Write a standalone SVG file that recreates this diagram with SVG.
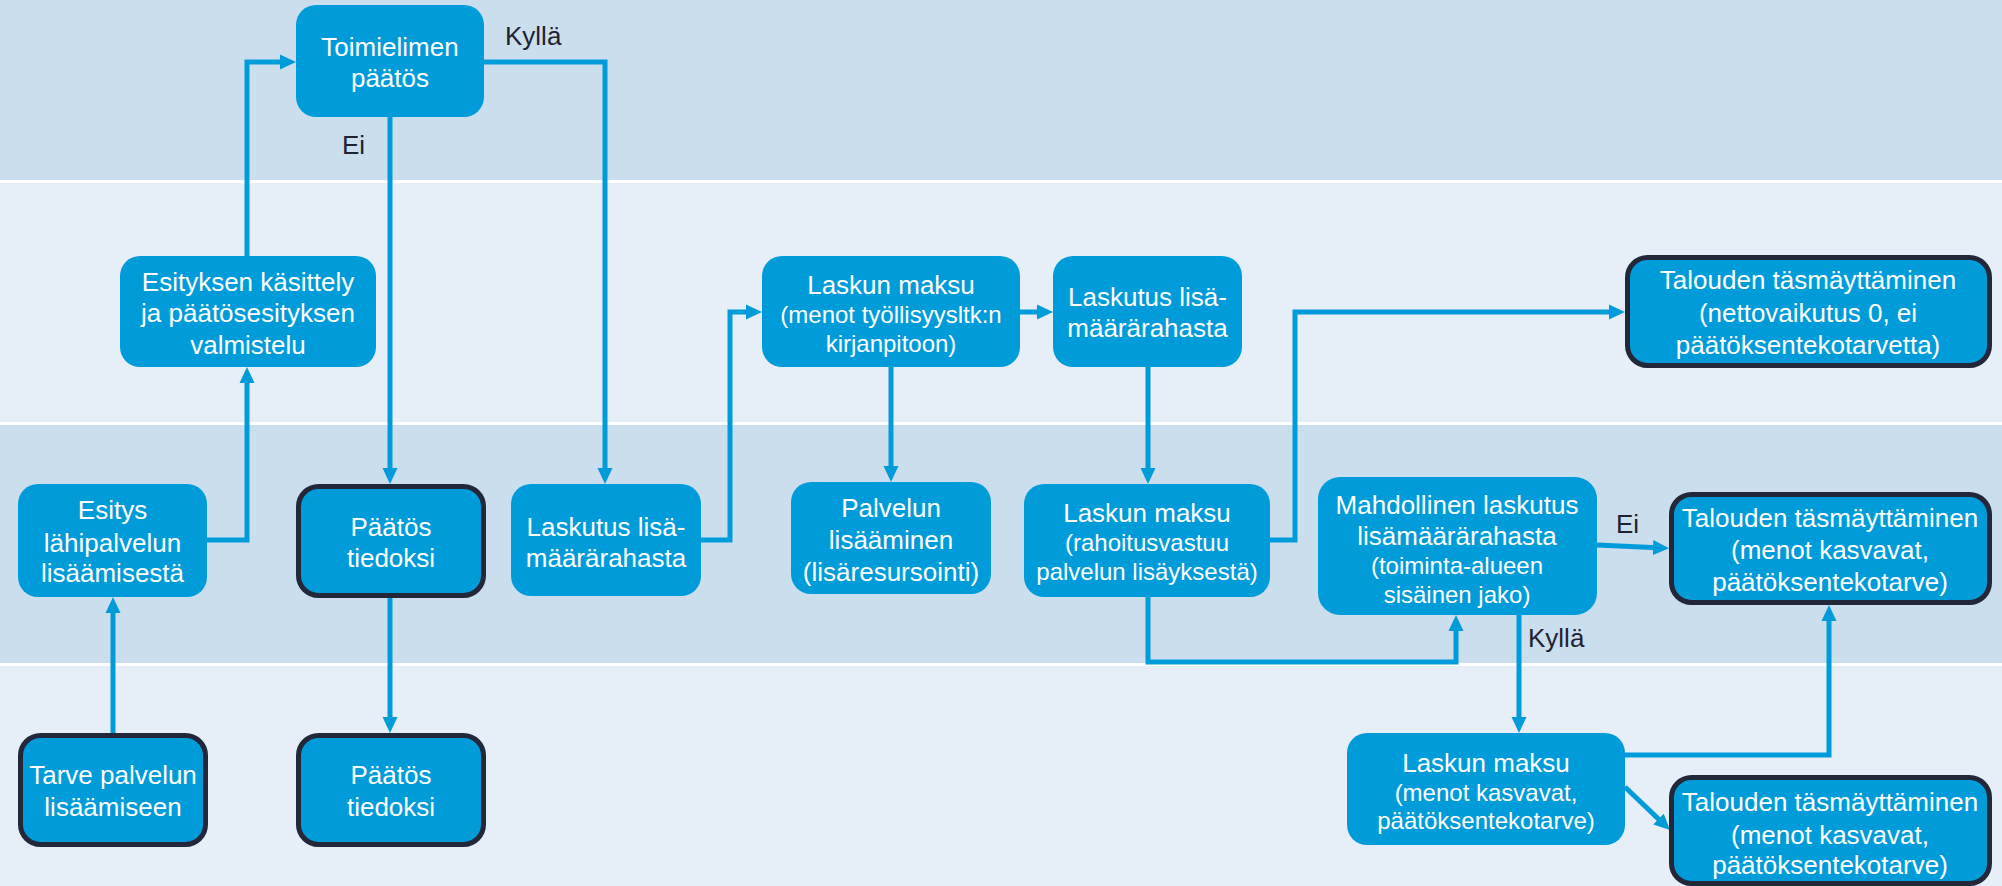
<svg xmlns="http://www.w3.org/2000/svg" width="2002" height="886" viewBox="0 0 2002 886">
<defs>
<style>
.bandA{fill:#CBDEEE}
.bandB{fill:#E6EFF8}
.node{fill:#009CDA}
.term{fill:#009CDA;stroke:#23273A;stroke-width:5}
.t{font-family:"Liberation Sans",Arial,sans-serif;font-size:26px;fill:#FFFFFF;text-anchor:middle}
.s{font-size:24px}
.lbl{font-family:"Liberation Sans",Arial,sans-serif;font-size:26px;fill:#1F2233}
.c{fill:none;stroke:#009CDA;stroke-width:5;stroke-linejoin:miter}
</style>
<marker id="ah" markerUnits="userSpaceOnUse" markerWidth="16" markerHeight="16" viewBox="0 0 16 16" refX="10" refY="8" orient="auto">
<path d="M0,0.5 L16,8 L0,15.5 z" fill="#009CDA"/>
</marker>
</defs>
<rect x="0" y="0" width="2002" height="886" fill="#FFFFFF"/>
<rect class="bandA" x="0" y="0" width="2002" height="180"/>
<rect class="bandB" x="0" y="183" width="2002" height="239"/>
<rect class="bandA" x="0" y="425" width="2002" height="238"/>
<rect class="bandB" x="0" y="666" width="2002" height="220"/>

<g id="connectors">
<path class="c" d="M113,733 V603" marker-end="url(#ah)"/>
<path class="c" d="M207,540 H247 V373" marker-end="url(#ah)"/>
<path class="c" d="M247,256 V62 H290" marker-end="url(#ah)"/>
<path class="c" d="M390,117 V478" marker-end="url(#ah)"/>
<path class="c" d="M484,62 H605 V478" marker-end="url(#ah)"/>
<path class="c" d="M390,598 V727" marker-end="url(#ah)"/>
<path class="c" d="M701,540 H730 V312 H756" marker-end="url(#ah)"/>
<path class="c" d="M1020,312 H1047" marker-end="url(#ah)"/>
<path class="c" d="M891,367 V476" marker-end="url(#ah)"/>
<path class="c" d="M1148,367 V478" marker-end="url(#ah)"/>
<path class="c" d="M1270,540 H1295 V312 H1619" marker-end="url(#ah)"/>
<path class="c" d="M1148,597 V662 H1456 V621" marker-end="url(#ah)"/>
<path class="c" d="M1597,545 L1663,548" marker-end="url(#ah)"/>
<path class="c" d="M1519,615 V727" marker-end="url(#ah)"/>
<path class="c" d="M1625,755 H1829 V611" marker-end="url(#ah)"/>
<path class="c" d="M1625,787 L1665.7,825.9" marker-end="url(#ah)"/>
<text class="lbl" x="505" y="45">Kyllä</text>
<text class="lbl" x="342" y="154">Ei</text>
<text class="lbl" x="1616" y="533">Ei</text>
<text class="lbl" x="1528" y="647">Kyllä</text>
</g>

<g id="n-toimielin">
<rect class="node" x="296" y="5" width="188" height="112" rx="20"/>
<text class="t" x="390" y="56">Toimielimen</text>
<text class="t" x="390" y="87">päätös</text>
</g>

<g id="n-esityksen">
<rect class="node" x="120" y="256" width="256" height="111" rx="20"/>
<text class="t" x="248" y="291">Esityksen käsittely</text>
<text class="t" x="248" y="322">ja päätösesityksen</text>
<text class="t" x="248" y="354">valmistelu</text>
</g>

<g id="n-esitys">
<rect class="node" x="18" y="484" width="189" height="113" rx="20"/>
<text class="t" x="112.5" y="519">Esitys</text>
<text class="t" x="112.5" y="552">lähipalvelun</text>
<text class="t" x="112.5" y="582">lisäämisestä</text>
</g>

<g id="n-paatos1">
<rect class="term" x="298.5" y="486.5" width="185" height="109" rx="20"/>
<text class="t" x="391" y="536">Päätös</text>
<text class="t" x="391" y="567">tiedoksi</text>
</g>

<g id="n-laskutus1">
<rect class="node" x="511" y="484" width="190" height="112" rx="20"/>
<text class="t" x="606" y="536">Laskutus lisä-</text>
<text class="t" x="606" y="567">määrärahasta</text>
</g>

<g id="n-tarve">
<rect class="term" x="20.5" y="735.5" width="185" height="109" rx="20"/>
<text class="t" x="113" y="784">Tarve palvelun</text>
<text class="t" x="113" y="816">lisäämiseen</text>
</g>

<g id="n-paatos2">
<rect class="term" x="298.5" y="735.5" width="185" height="109" rx="20"/>
<text class="t" x="391" y="784">Päätös</text>
<text class="t" x="391" y="816">tiedoksi</text>
</g>

<g id="n-laskunmaksu1">
<rect class="node" x="762" y="256" width="258" height="111" rx="20"/>
<text class="t" x="891" y="294">Laskun maksu</text>
<text class="t s" x="891" y="323">(menot työllisyysltk:n</text>
<text class="t s" x="891" y="352">kirjanpitoon)</text>
</g>

<g id="n-laskutus2">
<rect class="node" x="1053" y="256" width="189" height="111" rx="20"/>
<text class="t" x="1147.5" y="306">Laskutus lisä-</text>
<text class="t" x="1147.5" y="337">määrärahasta</text>
</g>

<g id="n-talous1">
<rect class="term" x="1627.5" y="257.5" width="362" height="108" rx="20"/>
<text class="t" x="1808" y="289">Talouden täsmäyttäminen</text>
<text class="t" x="1808" y="322">(nettovaikutus 0, ei</text>
<text class="t" x="1808" y="354">päätöksentekotarvetta)</text>
</g>

<g id="n-palvelun">
<rect class="node" x="791" y="482" width="200" height="112" rx="20"/>
<text class="t" x="891" y="517">Palvelun</text>
<text class="t" x="891" y="549">lisääminen</text>
<text class="t" x="891" y="581">(lisäresursointi)</text>
</g>

<g id="n-laskunmaksu2">
<rect class="node" x="1024" y="484" width="246" height="113" rx="20"/>
<text class="t" x="1147" y="522">Laskun maksu</text>
<text class="t s" x="1147" y="551">(rahoitusvastuu</text>
<text class="t s" x="1147" y="580">palvelun lisäyksestä)</text>
</g>

<g id="n-mahdollinen">
<rect class="node" x="1318" y="477" width="279" height="138" rx="22"/>
<text class="t" x="1457" y="514">Mahdollinen laskutus</text>
<text class="t" x="1457" y="545">lisämäärärahasta</text>
<text class="t s" x="1457" y="574">(toiminta-alueen</text>
<text class="t s" x="1457" y="603">sisäinen jako)</text>
</g>

<g id="n-talous2">
<rect class="term" x="1671.5" y="494.5" width="318" height="108" rx="20"/>
<text class="t" x="1830" y="527">Talouden täsmäyttäminen</text>
<text class="t" x="1830" y="559">(menot kasvavat,</text>
<text class="t" x="1830" y="591">päätöksentekotarve)</text>
</g>

<g id="n-laskunmaksu3">
<rect class="node" x="1347" y="733" width="278" height="112" rx="20"/>
<text class="t" x="1486" y="772">Laskun maksu</text>
<text class="t s" x="1486" y="801">(menot kasvavat,</text>
<text class="t s" x="1486" y="829">päätöksentekotarve)</text>
</g>

<g id="n-talous3">
<rect class="term" x="1671.5" y="777.5" width="318" height="106" rx="20"/>
<text class="t" x="1830" y="811">Talouden täsmäyttäminen</text>
<text class="t" x="1830" y="844">(menot kasvavat,</text>
<text class="t" x="1830" y="874">päätöksentekotarve)</text>
</g>
</svg>
